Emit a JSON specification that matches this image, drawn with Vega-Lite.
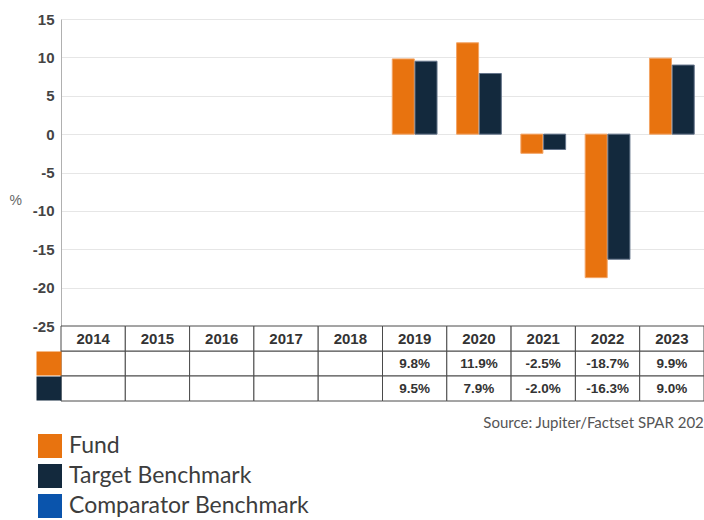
{
  "$schema": "https://vega.github.io/schema/vega-lite/v6.json",
  "padding": {"left": 9, "top": 12, "right": 0, "bottom": 0},
  "background": "white",
  "spacing": 0,
  "bounds": "flush",
  "config": {"view": {"stroke": null}},
  "datasets": {
    "perf": [
      {"year": 2014, "series": "Fund", "value": null},
      {"year": 2014, "series": "Target Benchmark", "value": null},
      {"year": 2015, "series": "Fund", "value": null},
      {"year": 2015, "series": "Target Benchmark", "value": null},
      {"year": 2016, "series": "Fund", "value": null},
      {"year": 2016, "series": "Target Benchmark", "value": null},
      {"year": 2017, "series": "Fund", "value": null},
      {"year": 2017, "series": "Target Benchmark", "value": null},
      {"year": 2018, "series": "Fund", "value": null},
      {"year": 2018, "series": "Target Benchmark", "value": null},
      {"year": 2019, "series": "Fund", "value": 9.8},
      {"year": 2019, "series": "Target Benchmark", "value": 9.5},
      {"year": 2020, "series": "Fund", "value": 11.9},
      {"year": 2020, "series": "Target Benchmark", "value": 7.9},
      {"year": 2021, "series": "Fund", "value": -2.5},
      {"year": 2021, "series": "Target Benchmark", "value": -2.0},
      {"year": 2022, "series": "Fund", "value": -18.7},
      {"year": 2022, "series": "Target Benchmark", "value": -16.3},
      {"year": 2023, "series": "Fund", "value": 9.9},
      {"year": 2023, "series": "Target Benchmark", "value": 9.0}
    ]
  },
  "vconcat": [
    {
      "width": 643,
      "height": 307,
      "data": {"name": "perf"},
      "mark": {"type": "bar", "strokeWidth": 1},
      "encoding": {
        "x": {
          "field": "year",
          "type": "ordinal",
          "scale": {"domain": [2014, 2015, 2016, 2017, 2018, 2019, 2020, 2021, 2022, 2023], "paddingInner": 0, "paddingOuter": 0},
          "axis": null
        },
        "xOffset": {
          "field": "series",
          "type": "nominal",
          "scale": {"domain": ["Fund", "Target Benchmark"], "paddingOuter": 0.43, "paddingInner": 0.03}
        },
        "y": {
          "field": "value",
          "type": "quantitative",
          "scale": {"domain": [-25, 15], "nice": false, "zero": false},
          "axis": {
            "values": [-25, -20, -15, -10, -5, 0, 5, 10, 15],
            "labelExpr": "replace(datum.label, '\u2212', '-')",
            "title": "%",
            "titleAngle": 0,
            "titleX": -52,
            "titleY": 181,
            "titleAlign": "left",
            "titleBaseline": "middle",
            "titleFont": "Liberation Sans",
            "titleFontSize": 14,
            "titleFontWeight": "normal",
            "titleColor": "#666666",
            "labelFont": "Liberation Sans",
            "labelFontWeight": "bold",
            "labelFontSize": 15,
            "labelColor": "#444444",
            "ticks": false,
            "labelPadding": 7,
            "domainColor": "#b0b0b0",
            "grid": true,
            "gridColor": "#e6e6e6"
          }
        },
        "color": {
          "field": "series",
          "type": "nominal",
          "scale": {"domain": ["Fund", "Target Benchmark", "Comparator Benchmark"], "range": ["#E8730F", "#13293D", "#0A54AC"]},
          "legend": {
            "orient": "none",
            "legendX": -23,
            "legendY": 415,
            "direction": "vertical",
            "title": null,
            "symbolType": "square",
            "symbolSize": 576,
            "symbolStrokeWidth": 0,
            "symbolOpacity": 1,
            "labelFont": "Lato",
            "labelFontSize": 23,
            "labelColor": "#3d3d3d",
            "labelOffset": 7,
            "labelLimit": 500,
            "rowPadding": 6,
            "padding": 0
          }
        },
        "stroke": {
          "field": "series",
          "type": "nominal",
          "scale": {"domain": ["Fund", "Target Benchmark"], "range": ["#F3A566", "#64748A"]},
          "legend": null
        }
      }
    },
    {
      "width": 643,
      "height": 75,
      "data": {"name": "perf"},
      "title": {
        "text": "Source: Jupiter/Factset SPAR 2023",
        "orient": "bottom",
        "anchor": "end",
        "font": "Lato",
        "fontSize": 15,
        "fontWeight": "normal",
        "color": "#555555",
        "offset": 14,
        "dx": 8
      },
      "transform": [
        {"calculate": "datum.series", "as": "row"},
        {"calculate": "isValid(datum.value) ? replace(format(datum.value, '.1f'), '\u2212', '-') + '%' : ''", "as": "label"}
      ],
      "encoding": {
        "x": {
          "field": "year",
          "type": "ordinal",
          "scale": {"domain": [2014, 2015, 2016, 2017, 2018, 2019, 2020, 2021, 2022, 2023], "paddingInner": 0, "paddingOuter": 0},
          "axis": null
        },
        "y": {
          "field": "row",
          "type": "nominal",
          "scale": {"domain": ["header", "Fund", "Target Benchmark"], "paddingInner": 0, "paddingOuter": 0},
          "axis": {
            "title": null,
            "values": ["Fund", "Target Benchmark"],
            "labels": false,
            "domain": false,
            "grid": false,
            "ticks": true,
            "tickSize": 25,
            "tickWidth": 24,
            "tickCap": "butt",
            "tickColor": {"condition": {"test": "datum.value === 'Fund'", "value": "#E8730F"}, "value": "#13293D"}
          }
        }
      },
      "layer": [
        {
          "mark": {"type": "rect", "fill": "white", "stroke": "#4a4a4a", "strokeWidth": 1}
        },
        {
          "transform": [
            {"filter": "datum.series === 'Fund'"},
            {"calculate": "'header'", "as": "row"}
          ],
          "layer": [
            {"mark": {"type": "rect", "fill": "white", "stroke": "#4a4a4a", "strokeWidth": 1}},
            {
              "mark": {"type": "text", "font": "Liberation Sans", "fontWeight": "bold", "fontSize": 15, "color": "#333333", "baseline": "middle"},
              "encoding": {"text": {"field": "year", "type": "nominal"}}
            }
          ]
        },
        {
          "mark": {"type": "text", "font": "Liberation Sans", "fontWeight": "bold", "fontSize": 13.5, "color": "#333333", "baseline": "middle"},
          "encoding": {"text": {"field": "label", "type": "nominal"}}
        }
      ]
    }
  ]
}
